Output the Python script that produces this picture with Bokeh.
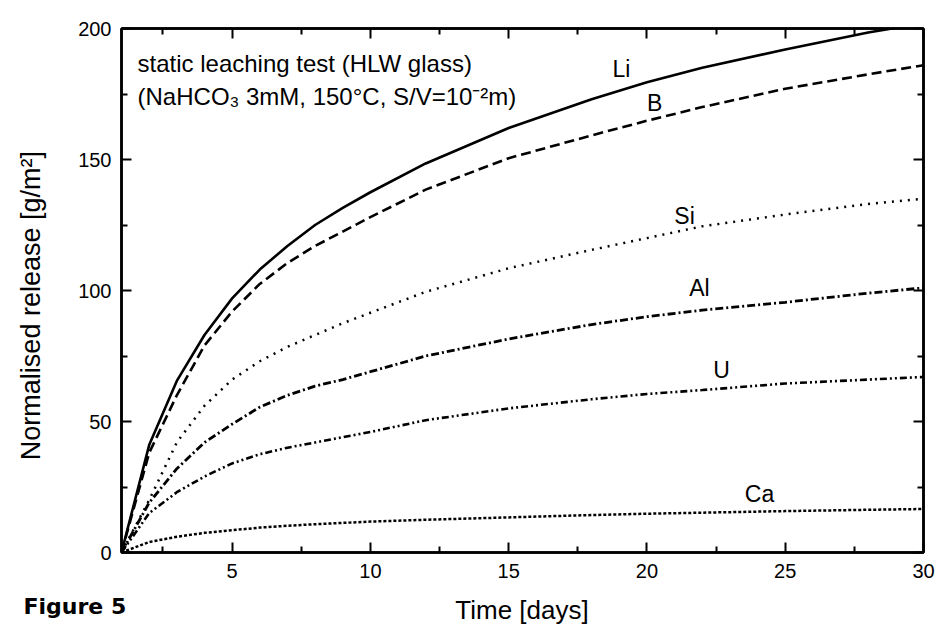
import math
from bokeh.plotting import figure
from bokeh.layouts import row, column
from bokeh.models import LinearAxis, FixedTicker, Label, Range1d, ColumnDataSource
from bokeh.core.properties import value
from bokeh.embed import file_html
from bokeh.resources import INLINE

# ---- data ----
days = [1, 2, 3, 4, 5, 6, 7, 8, 9, 10, 12, 15, 18, 20, 22, 25, 28, 30]
li = [0, 41, 65.5, 83, 97, 108, 117, 125, 131.5, 137.5, 148.5, 162, 173, 179.5, 185, 192, 198.5, 202]
b = [0, 38, 60, 79, 92, 102.5, 110.5, 117, 122.5, 128, 138.5, 150.5, 159.2, 164.8, 170, 177, 182.5, 186]
si = [0, 20, 42, 56, 66, 73, 78.5, 83, 87.5, 91.5, 99.5, 108.5, 115.5, 120, 124.5, 129, 133, 135]
al = [0, 19, 32, 42, 49, 55.5, 60, 63.5, 66, 69, 75, 81.5, 87, 90, 92.5, 95.5, 99, 101]
u = [0, 15, 23, 29, 34, 37.5, 40, 42, 44, 46, 50.5, 55, 58.5, 60.5, 62, 64.5, 66, 67]
ca = [0, 4, 6, 7.5, 8.5, 9.5, 10.2, 10.8, 11.3, 11.8, 12.5, 13.4, 14.3, 14.8, 15.2, 15.8, 16.3, 16.6]

series_names = ["Li", "B", "Si", "Al", "U", "Ca"]
x_ticks = [5, 10, 15, 20, 25, 30]
x_minor = [2.5, 7.5, 12.5, 17.5, 22.5, 27.5]
y_ticks = [0, 50, 100, 150, 200]
y_minor = [25, 75, 125, 175]

# label placement (annotation positions, data units)
label_x = [19.08, 20.28, 21.36, 21.9, 22.7, 24.07]
label_y = [184.6, 171.7, 128.4, 100.8, 69.7, 22.2]

FONT = "Liberation Sans"
LEFT_W = 60
MAIN_H = 590
TOTAL_W = 945
TOTAL_H = 627

p = figure(width=TOTAL_W - LEFT_W, height=MAIN_H, output_backend="svg", toolbar_location=None,
           x_range=Range1d(1, 30), y_range=Range1d(0, 200),
           min_border_left=121 - LEFT_W, min_border_right=22, min_border_top=28,
           min_border_bottom=MAIN_H - 552,
           x_axis_location=None, y_axis_location=None)
p.background_fill_color = "white"
p.border_fill_color = "white"
p.outline_line_color = "black"
p.outline_line_width = 2.5
p.grid.visible = False

def style_axis(ax, ticks, minor, show_labels):
    ax.ticker = FixedTicker(ticks=ticks, minor_ticks=minor)
    ax.axis_line_color = "black"
    ax.axis_line_width = 2.5
    ax.major_tick_in = 10
    ax.major_tick_out = 0
    ax.minor_tick_in = 6
    ax.minor_tick_out = 0
    ax.major_tick_line_width = 2
    ax.minor_tick_line_width = 2
    ax.major_tick_line_color = "black"
    ax.minor_tick_line_color = "black"
    ax.major_label_text_font = FONT
    ax.major_label_text_font_size = "20px"
    ax.major_label_text_color = "black"
    if not show_labels:
        ax.major_label_overrides = {t: "" for t in ticks}

xb = LinearAxis(); style_axis(xb, x_ticks, x_minor, True); xb.major_label_standoff = 11
xt = LinearAxis(); style_axis(xt, x_ticks, x_minor, False)
yl = LinearAxis(); style_axis(yl, y_ticks, y_minor, True); yl.major_label_standoff = 10
yr = LinearAxis(); style_axis(yr, y_ticks, y_minor, False)
p.add_layout(xb, "below")
p.add_layout(xt, "above")
p.add_layout(yl, "left")
p.add_layout(yr, "right")

styles = [
    dict(line_dash="solid", line_width=2.6),
    dict(line_dash="10 5", line_width=2.6),
    dict(line_dash="2 6", line_width=2.5),
    dict(line_dash="8 3 2 3", line_width=2.8),
    dict(line_dash="7 3 2 3 2 3", line_width=2.6),
    dict(line_dash="3 2", line_width=2.5),
]
for ys, st in zip([li, b, si, al, u, ca], styles):
    p.line(days, ys, line_color="black", **st)

src = ColumnDataSource(dict(x=label_x, y=label_y, t=series_names))
p.text(x="x", y="y", text="t", source=src, text_font=value(FONT), text_font_size="23px",
       text_align="center", text_baseline="middle", text_color="black")

p.add_layout(Label(x=1.58, y=186.5, text="static leaching test (HLW glass)",
                   text_font=FONT, text_font_size="24px", text_baseline="alphabetic",
                   text_color="black"))
p.add_layout(Label(x=1.58, y=173.9, text="(NaHCO\u2083 3mM, 150\u00b0C, S/V=10\u207b\u00b2m)",
                   text_font=FONT, text_font_size="24px", text_baseline="alphabetic",
                   text_color="black"))

def blank(width, height):
    f = figure(width=width, height=height, output_backend="svg", toolbar_location=None,
               x_range=Range1d(0, width), y_range=Range1d(0, height), min_border=0,
               x_axis_location=None, y_axis_location=None)
    f.outline_line_color = None
    f.grid.visible = False
    f.background_fill_color = "white"
    f.border_fill_color = "white"
    return f

# y-axis title panel
pl = blank(LEFT_W, MAIN_H)
pl.add_layout(Label(x=30, y=MAIN_H - 312, angle=math.pi / 2,
                    text="Normalised release [g/m\u00b2]", text_font=FONT, text_font_size="27px",
                    text_align="center", text_baseline="middle", text_color="black"))

# x-axis title and caption panel
BOT_H = TOTAL_H - MAIN_H
pb = blank(TOTAL_W, BOT_H)
pb.add_layout(Label(x=521.5, y=TOTAL_H - 609, text="Time [days]", text_font=FONT,
                    text_font_size="26px", text_align="center", text_baseline="middle",
                    text_color="black"))
pb.add_layout(Label(x=23, y=TOTAL_H - 606, text="Figure 5", text_font="DejaVu Sans",
                    text_font_size="22px", text_font_style="bold", text_align="left",
                    text_baseline="middle", text_color="black"))

layout = column(row(pl, p, spacing=0), pb, spacing=0)
open("out.html", "w").write(file_html(layout, INLINE))
